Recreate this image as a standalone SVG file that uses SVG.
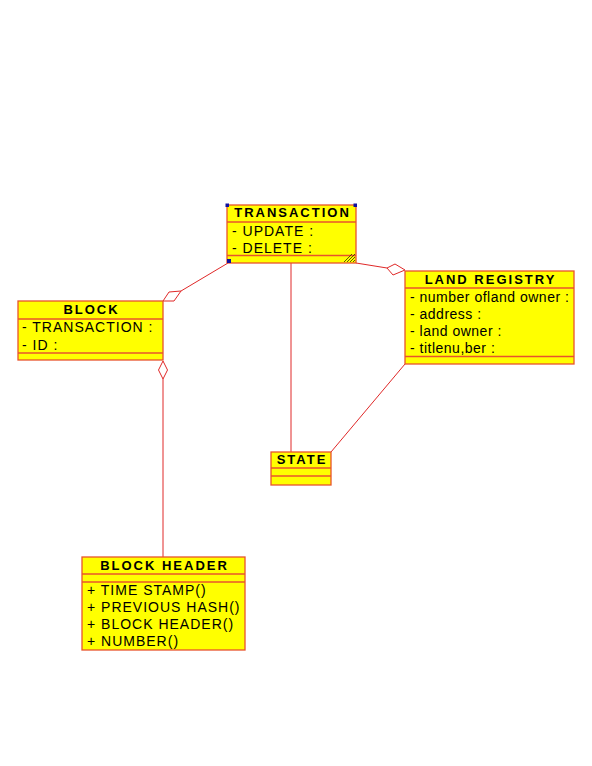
<svg xmlns="http://www.w3.org/2000/svg" width="592" height="766" viewBox="0 0 592 766">
<style>
.box{fill:#FFFF00;stroke:#E8542C;stroke-width:1.3}
.sep{stroke:#E8542C;stroke-width:1.3}
.t{font-family:"Liberation Sans",Arial,sans-serif;font-size:13px;font-weight:bold;fill:#000;text-anchor:middle;letter-spacing:2px}
.a{font-family:"Liberation Sans",Arial,sans-serif;font-size:14px;fill:#000;letter-spacing:1px}
.l{font-family:"Liberation Sans",Arial,sans-serif;font-size:14px;fill:#000;letter-spacing:0.5px}
.c{stroke:#E02828;stroke-width:1;fill:none}
.d{stroke:#E02828;stroke-width:1;fill:#fff}
.h{fill:#1010A0}
.g{stroke:#333300;stroke-width:0.8}
</style>
<rect width="592" height="766" fill="#fff"/>
<g id="connectors">
<line class="c" x1="228" y1="263" x2="181" y2="291"/>
<polygon class="d" points="163,301 169,292 181,291 174,301"/>
<polygon class="d" points="163,361 167.5,370 163,379 158.5,370"/>
<line class="c" x1="163" y1="379" x2="163" y2="557"/>
<line class="c" x1="356" y1="263" x2="387" y2="268"/>
<polygon class="d" points="387,268 395,264 405,270 393,275"/>
<line class="c" x1="291" y1="263" x2="291" y2="452"/>
<line class="c" x1="405" y1="364" x2="331" y2="452"/>
</g>
<g id="transaction">
<rect class="box" x="227" y="205" width="129" height="58"/>
<line class="sep" x1="227" y1="222" x2="356" y2="222"/>
<line class="sep" x1="227" y1="255.5" x2="356" y2="255.5"/>
<text class="t" x="292.5" y="216.5">TRANSACTION</text>
<text class="a" x="232" y="235.5">- UPDATE :</text>
<text class="a" x="232" y="253">- DELETE :</text>
<line class="g" x1="344" y1="262" x2="352" y2="254"/>
<line class="g" x1="347" y1="262" x2="355" y2="254"/>
<line class="g" x1="350" y1="262" x2="355" y2="257"/>
<line class="g" x1="353" y1="262" x2="355" y2="260"/>
<rect class="h" x="225.5" y="203.5" width="3.5" height="3.5"/>
<rect class="h" x="353.5" y="203.5" width="3.5" height="3.5"/>
<rect class="h" x="227" y="259" width="4" height="4"/>
</g>
<g id="block">
<rect class="box" x="18" y="301" width="145" height="59"/>
<line class="sep" x1="18" y1="319" x2="163" y2="319"/>
<line class="sep" x1="18" y1="353" x2="163" y2="353"/>
<text class="t" x="91.5" y="313.5">BLOCK</text>
<text class="a" x="22" y="332">- TRANSACTION :</text>
<text class="a" x="22" y="349.5">- ID :</text>
</g>
<g id="land-registry">
<rect class="box" x="405" y="271" width="169" height="93"/>
<line class="sep" x1="405" y1="288" x2="574" y2="288"/>
<line class="sep" x1="405" y1="356.5" x2="574" y2="356.5"/>
<text class="t" x="490.5" y="284">LAND REGISTRY</text>
<text class="l" x="410" y="302">- number ofland owner :</text>
<text class="l" x="410" y="319">- address :</text>
<text class="l" x="410" y="336">- land owner :</text>
<text class="l" x="410" y="353">- titlenu,ber :</text>
</g>
<g id="state">
<rect class="box" x="271" y="452" width="60" height="33"/>
<line class="sep" x1="271" y1="468" x2="331" y2="468"/>
<line class="sep" x1="271" y1="476" x2="331" y2="476"/>
<text class="t" x="302" y="463.5">STATE</text>
</g>
<g id="block-header">
<rect class="box" x="82" y="557" width="163" height="93"/>
<line class="sep" x1="82" y1="574" x2="245" y2="574"/>
<line class="sep" x1="82" y1="582" x2="245" y2="582"/>
<text class="t" x="164.5" y="569.5">BLOCK HEADER</text>
<text class="a" x="87" y="595">+ TIME STAMP()</text>
<text class="a" x="87" y="612">+ PREVIOUS HASH()</text>
<text class="a" x="87" y="629">+ BLOCK HEADER()</text>
<text class="a" x="87" y="646">+ NUMBER()</text>
</g>
</svg>
